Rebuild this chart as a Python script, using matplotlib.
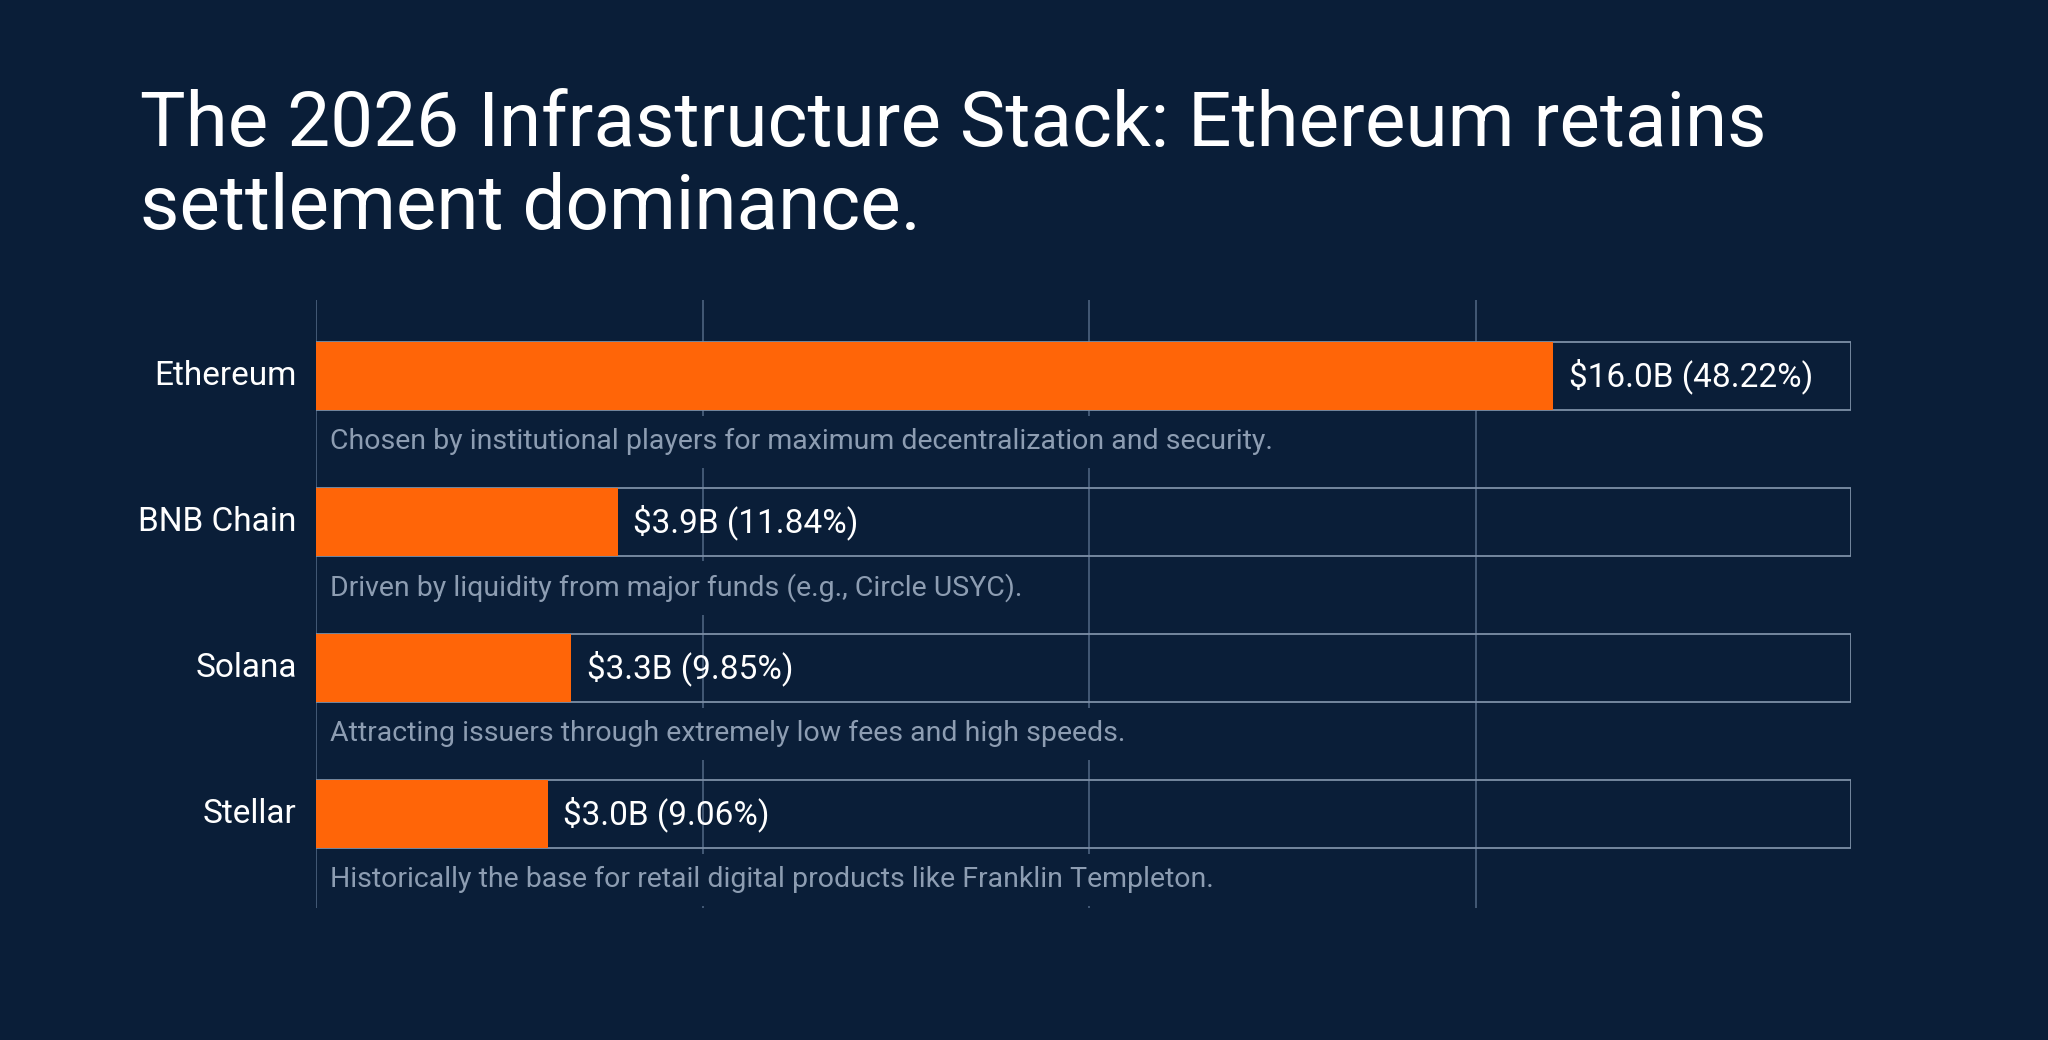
import matplotlib.pyplot as plt
from matplotlib.patches import Rectangle

chains = ["Ethereum", "BNB Chain", "Solana", "Stellar"]
values = [16.0, 3.9, 3.3, 3.0]
shares = [48.22, 11.84, 9.85, 9.06]
notes = [
    "Chosen by institutional players for maximum decentralization and security.",
    "Driven by liquidity from major funds (e.g., Circle USYC).",
    "Attracting issuers through extremely low fees and high speeds.",
    "Historically the base for retail digital products like Franklin Templeton.",
]
title_lines = ["The 2026 Infrastructure Stack: Ethereum retains", "settlement dominance."]

BG = "#0a1e38"
ORANGE = "#ff6508"
GRID = "#4d6380"
BOX = "#7d8fa6"
NOTE = "#8d9db2"

plt.rcParams['font.family'] = ['Roboto', 'DejaVu Sans']

fig = plt.figure(figsize=(20.48, 10.4), dpi=100, facecolor=BG)
ax = fig.add_axes([316 / 2048, 1 - 908 / 1040, (1851 - 316) / 2048, 608 / 1040])
ax.set_facecolor(BG)

xmax = 19.85
ys = list(range(len(chains)))
h = 0.466

for y in ys:
    ax.add_patch(Rectangle((0, y - h / 2), xmax, h, fill=False, edgecolor=BOX,
                           linewidth=1.3, zorder=2))
ax.barh(ys, values, height=h, color=ORANGE, zorder=3)

for y, name, v, s, n in zip(ys, chains, values, shares, notes):
    ax.text(v + 0.2, y, f"${v:.1f}B ({s:.2f}%)", color="white", fontsize=24,
            va="center", ha="left", zorder=4)
    # notes sit on a background-coloured box that hides the gridlines
    ax.text(0.18, y + 0.45, n, color=NOTE, fontsize=20.5, va="center", ha="left",
            zorder=1.5, bbox=dict(facecolor=BG, edgecolor="none", pad=9))
    ax.text(-0.25, y, name, color="white", fontsize=24, va="center", ha="right")

ax.set_xlim(0, xmax)
ax.set_ylim(3.644, -0.52)
for gx in [0, 5, 10, 15]:
    ax.axvline(gx, color=GRID, linewidth=1.2, zorder=1)
ax.set_xticks([])
ax.set_yticks([])
for sp in ax.spines.values():
    sp.set_visible(False)

fig.text(140 / 2048, 1 - 146 / 1040, title_lines[0], color="white", fontsize=55,
         ha="left", va="baseline")
fig.text(140 / 2048, 1 - 229 / 1040, title_lines[1], color="white", fontsize=55,
         ha="left", va="baseline")

fig.savefig("out.png", dpi=100, facecolor=BG)
